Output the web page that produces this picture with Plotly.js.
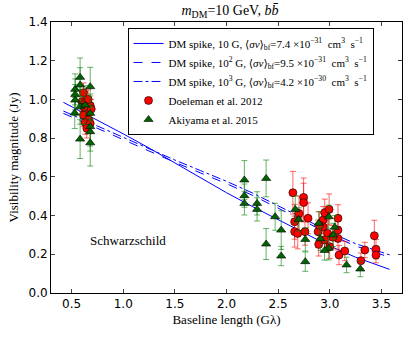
<!DOCTYPE html>
<html>
<head>
<meta charset="utf-8">
<script src="https://cdn.plot.ly/plotly-3.0.1.min.js"></script>
<style>
  body { margin: 0; background: #fff; }
  #plot { width: 407px; height: 337px; }
</style>
</head>
<body>
<div id="plot"></div>
<script>
// DM spike model curves
var modelX = [0.42, 0.75, 1.0, 1.25, 1.5, 1.75, 2.0, 2.25, 2.5, 2.75, 3.0, 3.25, 3.58];
var spike10 = [0.985, 0.893, 0.822, 0.749, 0.673, 0.595, 0.518, 0.447, 0.378, 0.31, 0.243, 0.185, 0.122];
var spike100 = [0.928, 0.85, 0.79, 0.73, 0.675, 0.62, 0.565, 0.505, 0.44, 0.372, 0.302, 0.243, 0.185];
var spike1000 = [0.94, 0.862, 0.802, 0.742, 0.687, 0.632, 0.577, 0.517, 0.452, 0.384, 0.314, 0.255, 0.197];

// Doeleman et al. 2012
var doeX = [0.615, 0.60, 0.631, 0.68, 0.647, 0.615, 0.664, 0.631, 0.68, 0.647, 0.66, 0.69, 0.62,
  2.643, 2.747, 2.747, 2.702, 2.66, 2.66, 2.69, 2.79, 2.76, 2.887, 2.893, 2.936, 2.951, 2.994,
  2.936, 2.98, 2.95, 3.0, 3.08, 3.08, 3.08, 3.09, 3.146, 3.302, 3.34, 3.432, 3.448, 3.448, 2.90, 3.03];
var doeY = [1.035, 0.988, 0.98, 0.968, 0.937, 0.919, 0.894, 0.88, 0.876, 0.851, 1.0, 0.95, 0.96,
  0.518, 0.494, 0.467, 0.411, 0.368, 0.317, 0.308, 0.386, 0.317, 0.317, 0.251, 0.377, 0.415, 0.432,
  0.342, 0.308, 0.274, 0.239, 0.386, 0.325, 0.282, 0.196, 0.217, 0.167, 0.222, 0.296, 0.226, 0.196, 0.35, 0.288];
var doeErr = [0.05, 0.05, 0.06, 0.05, 0.05, 0.06, 0.05, 0.06, 0.05, 0.05, 0.05, 0.05, 0.05,
  0.11, 0.1, 0.1, 0.09, 0.09, 0.08, 0.08, 0.08, 0.07, 0.06, 0.06, 0.07, 0.07, 0.08,
  0.07, 0.07, 0.06, 0.06, 0.07, 0.06, 0.06, 0.05, 0.05, 0.04, 0.04, 0.08, 0.05, 0.04, 0.07, 0.06];

// Akiyama et al. 2015
var akiX = [0.534, 0.534, 0.582, 0.582, 0.68, 0.534, 0.582, 0.68, 0.582, 0.631, 0.68, 0.68, 0.68, 0.53,
  2.173, 2.173, 2.173, 2.384, 2.296, 2.296, 2.384, 2.471, 2.53, 2.53, 2.666, 2.763, 2.763, 2.893,
  2.99, 2.99, 3.033, 3.163, 3.296, 2.70, 2.91, 2.95, 3.05];
var akiY = [1.052, 1.026, 1.114, 1.074, 1.066, 0.997, 0.795, 0.776, 0.962, 0.971, 0.928, 0.859, 0.833, 0.93,
  0.584, 0.503, 0.463, 0.592, 0.463, 0.432, 0.253, 0.394, 0.325, 0.191, 0.432, 0.162, 0.277, 0.36,
  0.394, 0.231, 0.3, 0.145, 0.124, 0.38, 0.28, 0.22, 0.34];
var akiErr = [0.08, 0.08, 0.1, 0.09, 0.1, 0.08, 0.1, 0.12, 0.09, 0.1, 0.1, 0.1, 0.1, 0.08,
  0.1, 0.06, 0.06, 0.095, 0.06, 0.06, 0.08, 0.07, 0.1, 0.05, 0.07, 0.05, 0.06, 0.06,
  0.06, 0.06, 0.06, 0.04, 0.04, 0.06, 0.06, 0.05, 0.06];

var sv = '\u27e8<i>\u03c3v</i>\u27e9<sub>bf</sub>';
var units = '  cm<sup>3</sup>  s<sup>\u22121</sup>';

var data = [
  {x: modelX, y: spike10, mode: 'lines', line: {color: '#0000ff', width: 1},
   name: 'DM spike, 10 G, ' + sv + '=7.4 \u00d710<sup>\u221231</sup>' + units},
  {x: modelX, y: spike100, mode: 'lines', line: {color: '#0000ff', width: 1, dash: 'dash'},
   name: 'DM spike, 10<sup>2</sup> G, ' + sv + '=9.5 \u00d710<sup>\u221231</sup>' + units},
  {x: modelX, y: spike1000, mode: 'lines', line: {color: '#0000ff', width: 1, dash: 'dashdot'},
   name: 'DM spike, 10<sup>3</sup> G, ' + sv + '=4.2 \u00d710<sup>\u221230</sup>' + units},
  {x: doeX, y: doeY, mode: 'markers', name: 'Doeleman et al. 2012',
   marker: {symbol: 'circle', size: 8, color: '#ff0000', line: {color: '#000', width: 0.6}},
   error_y: {type: 'data', array: doeErr, color: 'rgba(255,0,0,0.6)', thickness: 1, width: 3}},
  {x: akiX, y: akiY, mode: 'markers', name: 'Akiyama et al. 2015',
   marker: {symbol: 'triangle-up', size: 8, color: '#006400', line: {color: '#000', width: 0.6}},
   error_y: {type: 'data', array: akiErr, color: 'rgba(0,128,0,0.6)', thickness: 1, width: 3}}
];

var serif = 'Liberation Serif, DejaVu Serif, serif';

var layout = {
  width: 407, height: 337,
  margin: {l: 51, r: 5, t: 22, b: 44},
  paper_bgcolor: '#fff', plot_bgcolor: '#fff',
  showlegend: true,
  title: {text: '<i>m</i><sub>DM</sub>=10 GeV, <i>b</i><i>b\u0304</i>',
          font: {family: serif, size: 14, color: '#000'}, x: 0.565, xanchor: 'center', y: 0.985},
  xaxis: {
    range: [0.3, 3.7], dtick: 0.5, tick0: 0.5, tickformat: '.1f',
    ticks: 'inside', ticklen: 4, mirror: 'ticks', showline: true, linecolor: '#000', linewidth: 1,
    showgrid: false, zeroline: false,
    tickfont: {family: 'DejaVu Sans, sans-serif', size: 12, color: '#000'},
    title: {text: 'Baseline length (G\u03bb)', font: {family: serif, size: 13, color: '#000'}, standoff: 4}
  },
  yaxis: {
    range: [0, 1.4], dtick: 0.2, tickformat: '.1f',
    ticks: 'inside', ticklen: 4, mirror: 'ticks', showline: true, linecolor: '#000', linewidth: 1,
    showgrid: false, zeroline: false,
    tickfont: {family: 'DejaVu Sans, sans-serif', size: 12, color: '#000'},
    title: {text: 'Visibility magnitude (Jy)', font: {family: serif, size: 13, color: '#000'}, standoff: 6}
  },
  legend: {
    x: 0.218, y: 0.978, xanchor: 'left', yanchor: 'top',
    bordercolor: '#000', borderwidth: 1, bgcolor: '#fff',
    font: {family: serif, size: 11, color: '#000'},
    tracegroupgap: 0, itemwidth: 30
  },
  annotations: [{
    x: 1.05, y: 0.27, xref: 'x', yref: 'y', text: 'Schwarzschild', showarrow: false,
    font: {family: serif, size: 13, color: '#000'}
  }]
};

Plotly.newPlot('plot', data, layout, {displayModeBar: false});
</script>
</body>
</html>
